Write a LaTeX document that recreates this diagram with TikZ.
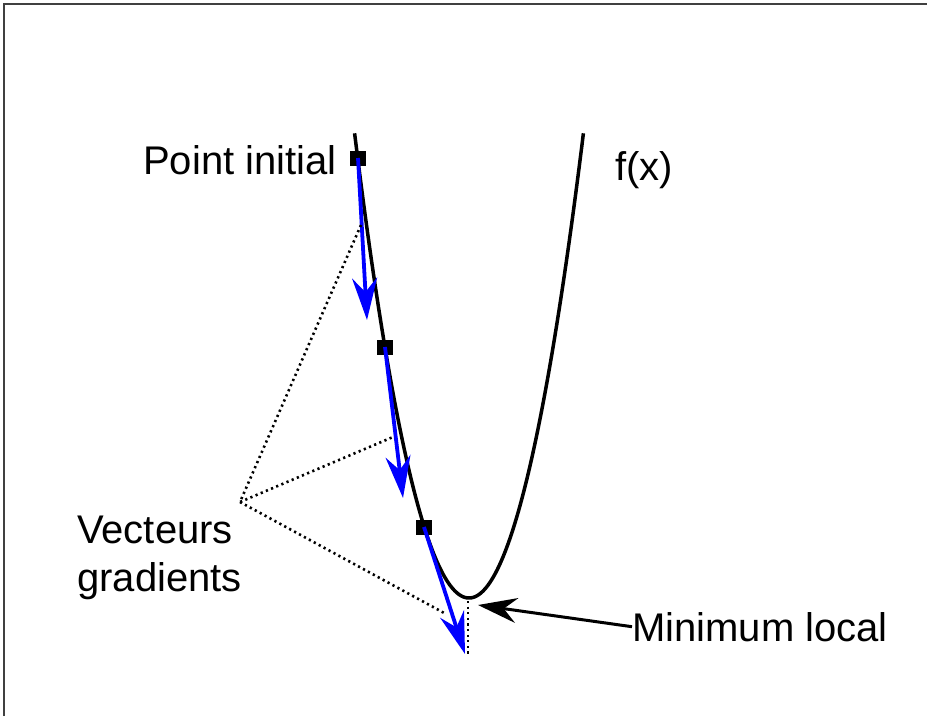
\documentclass[tikz,border=0pt]{standalone}
\usepackage{fontspec}
\setmainfont{Liberation Sans}
\usetikzlibrary{arrows.meta}
\begin{document}
\begin{tikzpicture}[x=1pt,y=-1pt,
  lbl/.style={font=\fontsize{40}{46}\selectfont, inner sep=0pt, anchor=base west},
  fcurve/.style={line width=3.5pt, black},
  sq/.style={draw=none, fill=black, minimum width=16pt, minimum height=15pt, inner sep=0pt},
  grad/.style={line width=3.8pt, blue, -{Stealth[length=42pt,width=25pt,inset=14pt]}},
  dotline/.style={line width=2.6pt, dash pattern=on 2.2pt off 3.4pt},
  pointer/.style={line width=3pt, black, -{Stealth[length=39pt,width=25pt,inset=13pt]}},
  frame/.style={line width=2pt, black!75}]
\useasboundingbox (0,0) rectangle (927,716);
% frame (top and left edges)
\draw[frame] (4,716) -- (4,4) -- (927,4);
% the function
\draw[fcurve] plot[domain=354.6:583.4, samples=150] (\x, {598-0.0355*(\x-469)^2});
% points on the curve
\node[sq] (p1) at (358,158) {};
\node[sq] (p2) at (385,347) {};
\node[sq] (p3) at (424,527) {};
% gradient vectors
\coordinate (g1) at (367,320);
\coordinate (g2) at (403,498);
\coordinate (g3) at (465,654);
\draw[grad] (p1.center) -- (g1);
\draw[grad] (p2.center) -- (g2);
\draw[grad] (p3.center) -- (g3);
% dotted leaders
\coordinate (apex) at (240,502);
\coordinate (d1) at (361,225);
\coordinate (d2) at (393,437);
\coordinate (d3) at (446,614);
\draw[dotline] (d1) -- (apex) -- (d2);
\draw[dotline] (apex) -- (d3);
\coordinate (vmin) at (468,601);
\coordinate (vbot) at (468,654);
\draw[dotline] (vmin) -- (vbot);
% labels
\node[lbl] (pinit) at (143,174) {Point initial};
\node[lbl] (fx) at (615,180) {f(x)};
\node[lbl] (vec) at (77,543) {Vecteurs};
\node[lbl] (grd) at (77,591) {gradients};
\node[lbl] (minl) at (632,641) {Minimum local};
% pointer to the minimum
\coordinate (mtip) at (478,605);
\draw[pointer] (minl.west) -- (mtip);
\end{tikzpicture}
\end{document}
